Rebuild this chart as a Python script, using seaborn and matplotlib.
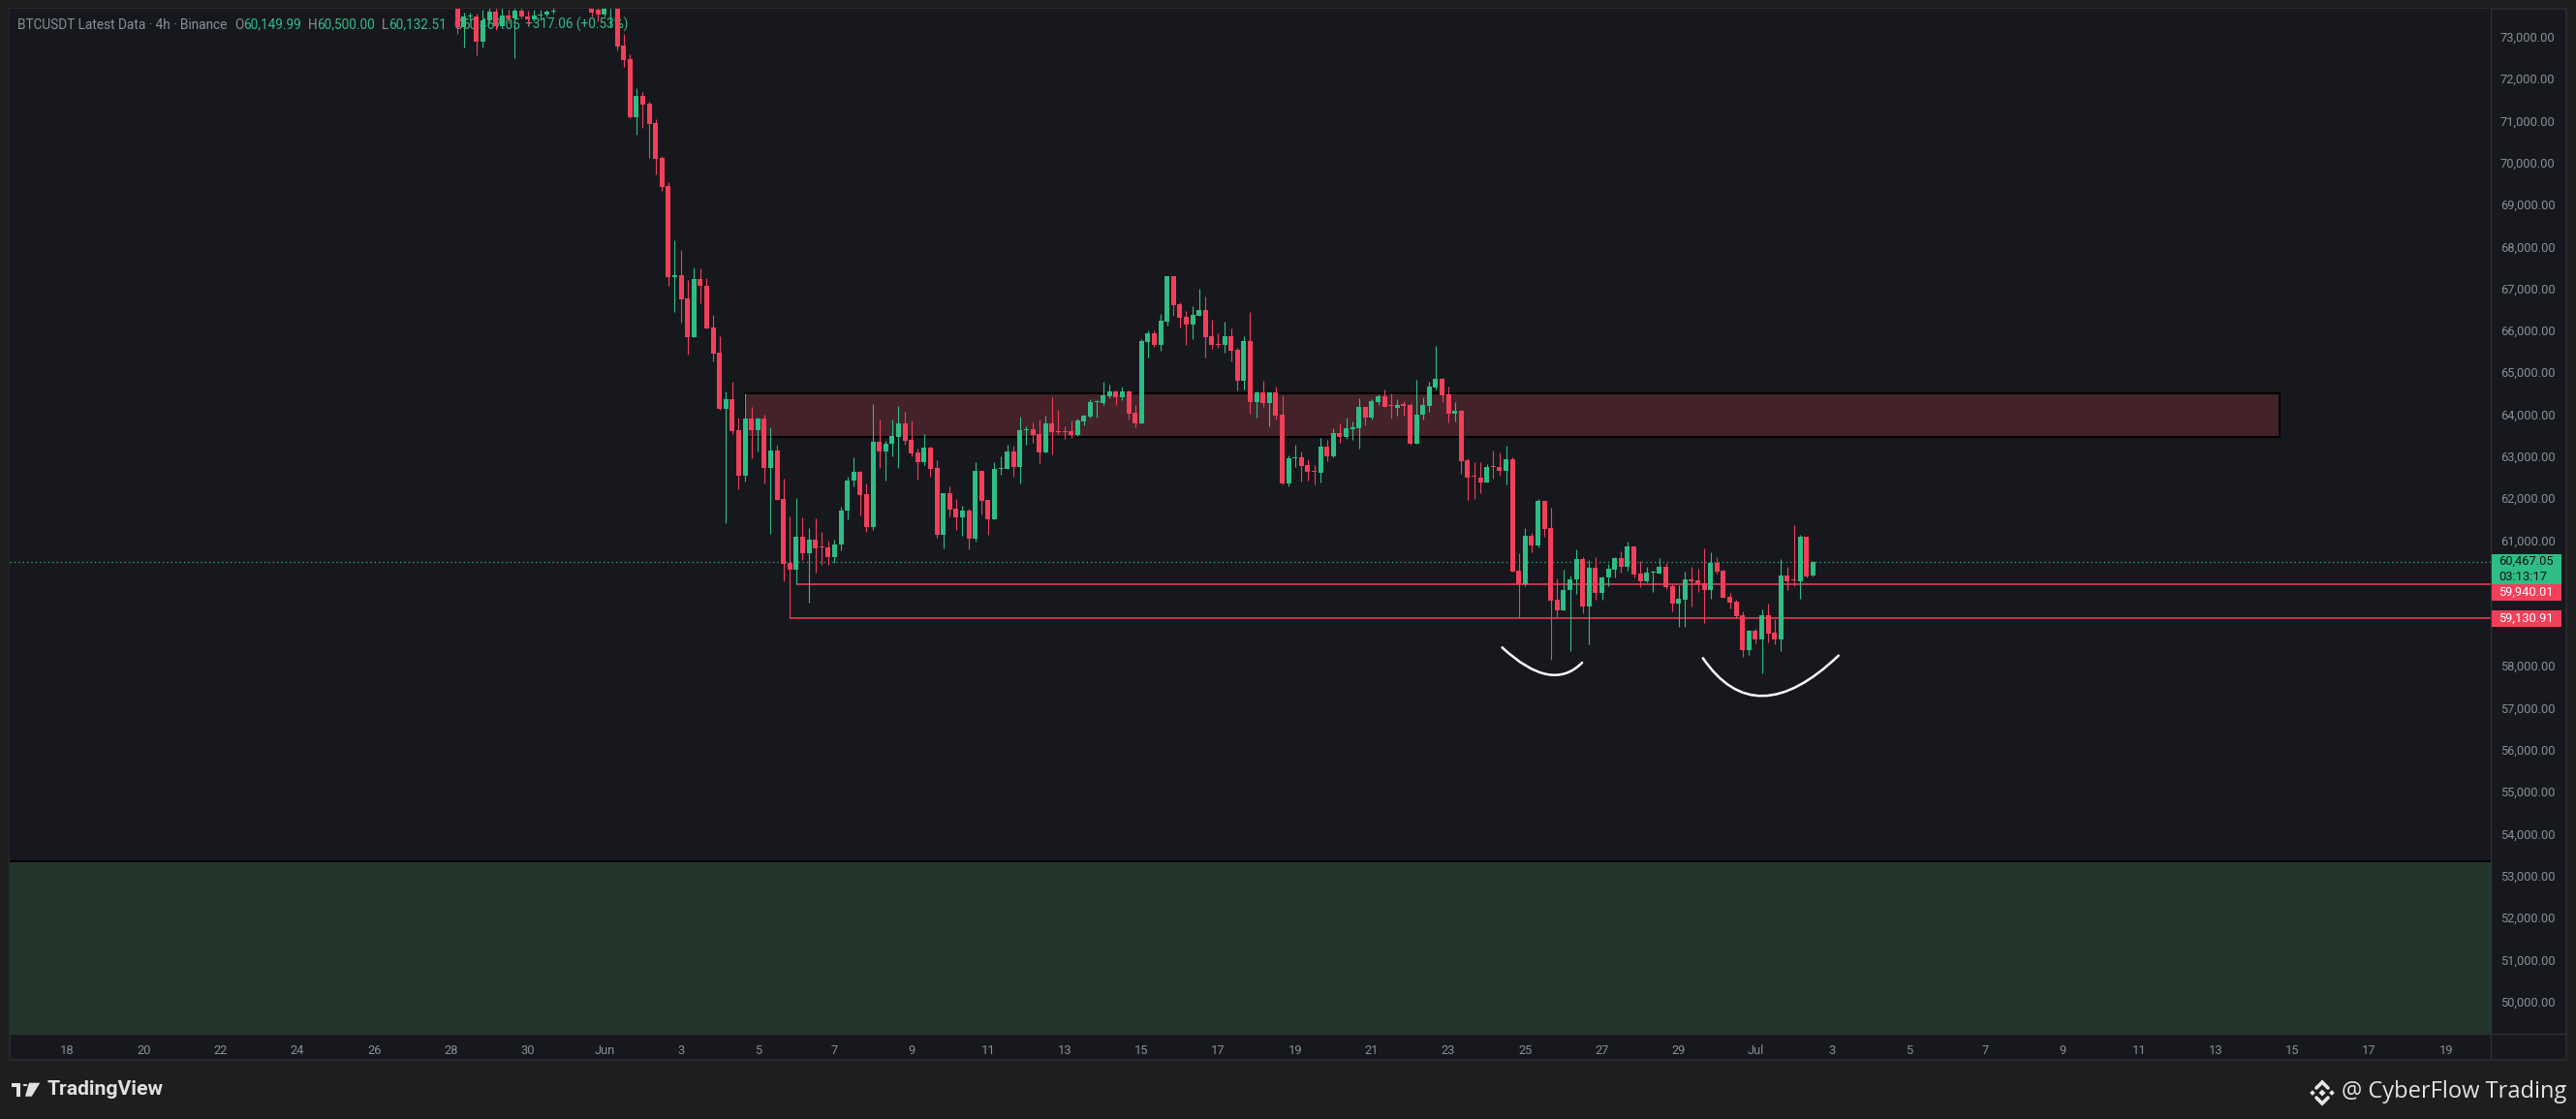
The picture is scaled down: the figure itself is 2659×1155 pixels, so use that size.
import numpy as np
import pandas as pd
import matplotlib
matplotlib.use("Agg")
import matplotlib.pyplot as plt
import matplotlib.dates as mdates
from matplotlib.patches import Rectangle, PathPatch, Polygon, Circle
from matplotlib.path import Path
import seaborn as sns

# -------------------------
# BTCUSDT 4h candles, first bar 2024-05-28 04:00
# -------------------------
first_bar = "2024-05-28 04:00"
opens = [73750, 73222, 73476, 73485, 72890, 73383, 73600, 73260, 73506, 73445,
         73630, 73490, 73414, 73506, 73530, 73590, 73720, 73900, 74050, 73980,
         73850, 73760, 73650, 73540, 73700, 73720, 72782, 72467, 71081, 71589,
         71404, 70942, 70111, 69441, 67277, 67316, 66761, 65845, 67223, 67061,
         66068, 65467, 64128, 64359, 63619, 62542, 63896, 63620, 63897, 62726,
         63134, 61980, 60455, 60301, 61079, 60694, 61009, 60840, 60817, 60601,
         60894, 61702, 62418, 62627, 62095, 61317, 63342, 63119, 63296, 63466,
         63781, 63389, 63088, 62865, 63204, 62719, 61132, 62118, 61749, 61548,
         61702, 61040, 62650, 61957, 61502, 62696, 62704, 63112, 62750, 63620,
         63642, 63527, 63088, 63781, 63589, 63589, 63589, 63504, 63828, 63943,
         64290, 64267, 64428, 64544, 64405, 64544, 64035, 63781, 65722, 65930,
         65652, 66207, 67292, 66623, 66322, 66138, 66345, 66484, 65860, 65660,
         65652, 65860, 65537, 64798, 65745, 64290, 64521, 64267, 64521, 63989,
         62349, 62950, 62973, 62788, 62650, 62603, 63227, 62996, 63550, 63458,
         63643, 63666, 64174, 63920, 64290, 64428, 64197, 64151, 64220, 64220,
         63296, 63989, 64197, 64636, 64844, 64475, 64012, 64082, 62904, 62511,
         62488, 62372, 62742, 62742, 62650, 62927, 60270, 59946, 61102, 60871,
         61933, 61287, 59577, 59323, 59808, 60062, 60547, 59415, 60339, 59739,
         60108, 60293, 60570, 60362, 60848, 60201, 60016, 60216, 60201, 60362,
         59900, 59485, 59577, 60062, 60040, 59970, 59808, 60455, 60270, 59647,
         59531, 59208, 58376, 58838, 58630, 59208, 58792, 58630, 60155, 60040,
         60016, 61079, 60149.99]
highs = [73800, 73570, 73580, 73553, 73645, 73700, 73700, 73680, 73650, 73700,
         73700, 73630, 73640, 73640, 73645, 73700, 73950, 74100, 74250, 74100,
         73950, 73800, 73760, 73750, 73800, 73900, 73067, 72582, 71782, 71681,
         71450, 71027, 70165, 69526, 68140, 67916, 67192, 67500, 67477, 67246,
         66368, 65853, 64544, 64775, 63920, 64497, 64174, 63920, 63982, 63689,
         63265, 62465, 61556, 62003, 61541, 61287, 61518, 61194, 60986, 61009,
         61795, 62511, 62973, 62650, 62349, 64243, 63874, 63365, 63874, 64197,
         64058, 63851, 63188, 63527, 63227, 62904, 62118, 62280, 61980, 61818,
         61749, 62857, 62650, 61957, 62857, 62996, 63273, 63250, 63943, 63712,
         63804, 63874, 63966, 64405, 64105, 63712, 63851, 63897, 63989, 64359,
         64336, 64775, 64705, 64567, 64659, 64567, 64220, 65791, 65999, 65999,
         66392, 67292, 67292, 66669, 66461, 66577, 66992, 66807, 66253, 65930,
         66207, 66045, 65583, 65860, 66438, 64544, 64798, 64521, 64659, 64451,
         63019, 63273, 63112, 62927, 62788, 63435, 63389, 63666, 63781, 63920,
         63828, 64382, 64174, 64359, 64475, 64590, 64498, 64359, 64313, 64267,
         64821, 64405, 64775, 65629, 64867, 64659, 64290, 64105, 62950, 62857,
         62857, 62811, 63134, 63088, 63250, 62973, 60686, 61287, 61171, 61980,
         61933, 61772, 60085, 60293, 60155, 60779, 60593, 60524, 60593, 60132,
         60431, 60593, 60732, 60963, 60848, 60501, 60362, 60270, 60570, 60455,
         59946, 59924, 60247, 60363, 60317, 60801, 60709, 60594, 60293, 59739,
         59577, 59300, 58861, 58884, 59346, 59485, 59115, 60548, 60363, 61356,
         61125, 61079, 60500.00]
lows = [73068, 72736, 73400, 72567, 72736, 73350, 73168, 73200, 73322, 72490,
        73430, 73300, 73360, 73400, 73480, 73560, 73710, 73820, 73900, 73780,
        73720, 73480, 73376, 73480, 73222, 72682, 72282, 71065, 70673, 70834,
        70103, 69718, 69333, 67061, 66445, 66191, 65429, 65845, 66653, 66053,
        65267, 64112, 61400, 63519, 62210, 62403, 62957, 63111, 62357, 61156,
        61964, 60016, 59130.91, 59940.01, 60532, 59515, 60232, 60416, 60416, 60463,
        60763, 61494, 62280, 61595, 61202, 61248, 62727, 62426, 63004, 62727,
        63281, 63004, 62449, 62788, 62519, 61063, 60809, 61571, 61248, 61110,
        60786, 60971, 61617, 61133, 61502, 62565, 62704, 62519, 62357, 63273,
        63327, 62842, 63088, 63042, 63535, 63419, 63443, 63481, 63735, 63920,
        63920, 64220, 64382, 64220, 64336, 63874, 63689, 63781, 65352, 65606,
        65514, 66114, 66345, 66068, 65652, 65791, 66345, 65352, 65560, 65583,
        65468, 65260, 64567, 64590, 64012, 63920, 64174, 63712, 63874, 62326,
        62280, 62742, 62395, 62418, 62326, 62372, 62880, 62973, 63319, 63412,
        63389, 63181, 63735, 63874, 64220, 64174, 63897, 63966, 63966, 63273,
        63296, 63874, 64059, 64590, 64289, 63804, 63828, 62580, 61957, 61980,
        62118, 62372, 62465, 62534, 62326, 60247, 59131, 59900, 60709, 60825,
        61079, 58145, 59161, 59323, 58353, 59716, 59254, 58514, 59577, 59577,
        59900, 60108, 60224, 60270, 60108, 59877, 59993, 59762, 60201, 59831,
        59300, 58938, 58938, 59415, 59762, 59023, 59600, 60201, 59623, 59369,
        59138, 58214, 58260, 58538, 57822, 58561, 58515, 58353, 59808, 59900,
        59600, 60109, 60132.51]
closes = [73222, 73476, 73485, 72890, 73383, 73600, 73260, 73506, 73445, 73630,
          73490, 73414, 73506, 73530, 73590, 73630, 73900, 74050, 73980, 73850,
          73760, 73570, 73540, 73700, 73720, 72775, 72452, 71081, 71589, 71389,
          70927, 70095, 69426, 67277, 67308, 66746, 65845, 67223, 67054, 66053,
          65452, 64128, 64359, 63596, 62542, 63896, 63620, 63897, 62726, 63134,
          61964, 60440, 60301, 61079, 60694, 61009, 60809, 60817, 60601, 60894,
          61702, 62418, 62627, 62072, 61317, 63342, 63119, 63296, 63481, 63781,
          63373, 63065, 62865, 63204, 62703, 61132, 62118, 61733, 61548, 61702,
          61040, 62650, 61941, 61502, 62696, 62727, 63112, 62750, 63620, 63642,
          63504, 63088, 63781, 63573, 63573, 63566, 63504, 63851, 63966, 64290,
          64298, 64451, 64544, 64405, 64544, 64012, 63781, 65745, 65930, 65652,
          66230, 67292, 66600, 66299, 66138, 66369, 66484, 65837, 65652, 65645,
          65860, 65514, 64798, 65745, 64290, 64521, 64267, 64521, 63966, 62349,
          62950, 62965, 62765, 62626, 62620, 63227, 62996, 63550, 63458, 63666,
          63689, 64174, 63920, 64313, 64428, 64174, 64190, 64220, 64208, 63296,
          63989, 64220, 64659, 64844, 64451, 64012, 64082, 62880, 62488, 62500,
          62372, 62742, 62735, 62650, 62927, 60247, 59946, 61102, 60871, 61933,
          61263, 59554, 59323, 59808, 60062, 60547, 59415, 60339, 59739, 60108,
          60316, 60570, 60362, 60848, 60178, 60016, 60224, 60224, 60362, 59877,
          59485, 59600, 60062, 60016, 59947, 59808, 60455, 60247, 59623, 59508,
          59185, 58376, 58838, 58630, 59208, 58769, 58630, 60155, 60016, 60030,
          61079, 60132, 60467.05]

# resistance box and support lines
zone_low, zone_high = 63460, 64500
zone_start, zone_end = "2024-06-04 16:00", "2024-07-14 16:00"
support_levels = [59940.01, 59130.91]
support_starts = ["2024-06-06 00:00", "2024-06-05 20:00"]
last_price = 60467.05
countdown = "03:13:17"
demand_top = 53330

# hand drawn "smile" curves: start, lowest point, end
curve1_times = ["2024-06-24 09:36", "2024-06-25 13:36", "2024-06-26 11:36"]
curve1_prices = [58438, 57798, 58075]
curve2_times = ["2024-06-29 15:12", "2024-07-01 04:48", "2024-07-03 04:00"]
curve2_prices = [58184, 57283, 58244]

y_ticks = [50000, 51000, 52000, 53000, 54000, 55000, 56000, 57000, 58000,
           61000, 62000, 63000, 64000, 65000, 66000, 67000, 68000, 69000,
           70000, 71000, 72000, 73000]

BG = "#17181d"
GREEN = "#2ebd85"
RED = "#f23f5a"
GRAY = "#8b8e96"

sns.set_theme(style="dark", rc={"axes.facecolor": BG, "figure.facecolor": "#1e1e1e",
                                "axes.grid": False})
plt.rcParams["font.family"] = ["Roboto", "DejaVu Sans"]

W, H = 2659, 1155
fig = plt.figure(figsize=(W / 100, H / 100), dpi=100)
fig.patch.set_facecolor("#1e1e1e")


def fx(x):
    return x / W


def fy(y):
    return 1 - y / H


# chart panel + separators
fig.add_artist(Rectangle((fx(10), fy(1094)), fx(2649) - fx(10), fy(9) - fy(1094),
                         transform=fig.transFigure, facecolor=BG, edgecolor="#2b2c31",
                         lw=1.2, zorder=0))
fig.add_artist(plt.Line2D([fx(2571), fx(2571)], [fy(9), fy(1094)], transform=fig.transFigure,
                          color="#2f3137", lw=1, zorder=5))
fig.add_artist(plt.Line2D([fx(10), fx(2649)], [fy(1067), fy(1067)], transform=fig.transFigure,
                          color="#2f3137", lw=1, zorder=5))

ax = fig.add_axes([fx(10), fy(1067), fx(2571) - fx(10), fy(9.3) - fy(1067)])
ax.set_facecolor(BG)
for s in ax.spines.values():
    s.set_visible(False)

df = pd.DataFrame({"open": opens, "high": highs, "low": lows, "close": closes},
                  index=pd.date_range(first_bar, periods=len(opens), freq="4h"))
x = mdates.date2num(df.index.to_pydatetime())
up = (df["close"] >= df["open"]).values
colors = np.where(up, GREEN, RED)
body_lo = np.minimum(df["open"], df["close"]).values
body_h = np.maximum(np.abs(df["close"] - df["open"]).values, 25)

xmin = mdates.date2num(pd.Timestamp("2024-05-16 12:00"))
xmax = mdates.date2num(pd.Timestamp("2024-07-20 04:00"))

# demand zone at the bottom
ax.axhspan(40000, demand_top, color="#22362b", lw=0, zorder=0.5)
ax.axhline(demand_top, color="black", lw=1.4, zorder=0.6)

# resistance box
zs = mdates.date2num(pd.Timestamp(zone_start))
ze = mdates.date2num(pd.Timestamp(zone_end))
ax.add_patch(Rectangle((zs, zone_low), ze - zs, zone_high - zone_low, facecolor="#43222a",
                       edgecolor="black", lw=1.4, zorder=1))

# support lines and last price line
for lvl, st in zip(support_levels, support_starts):
    ax.hlines(lvl, mdates.date2num(pd.Timestamp(st)), xmax, color=RED, lw=1.1, zorder=2)
ax.axhline(last_price, color=GREEN, lw=0.9, ls=(0, (1, 2.5)), zorder=2)

# candles
ax.vlines(x, df["low"], df["high"], colors=colors, lw=0.8, zorder=3)
ax.bar(x, body_h, bottom=body_lo, width=0.125, color=colors, lw=0, zorder=3.1)

# smile curves
for ts, ps in [(curve1_times, curve1_prices), (curve2_times, curve2_prices)]:
    tx = mdates.date2num(pd.to_datetime(ts))
    p0 = np.array([tx[0], ps[0]])
    m = np.array([tx[1], ps[1]])
    p2 = np.array([tx[2], ps[2]])
    ctrl = 2 * m - (p0 + p2) / 2
    path = Path([p0, ctrl, p2], [Path.MOVETO, Path.CURVE3, Path.CURVE3])
    ax.add_patch(PathPatch(path, facecolor="none", edgecolor="white", lw=1.8,
                           capstyle="round", zorder=4))

ax.set_xlim(xmin, xmax)
ax.set_ylim(49228, 73661)

# axes ticks
ax.yaxis.tick_right()
ax.set_yticks(y_ticks)
ax.set_yticklabels([f"{v:,.2f}" for v in y_ticks])
ticks = pd.date_range("2024-05-18", "2024-07-19", freq="2D")
ax.set_xticks(mdates.date2num(ticks.to_pydatetime()))
ax.set_xticklabels([d.strftime("%b") if d.day == 1 else str(d.day) for d in ticks])
ax.tick_params(axis="y", length=0, pad=7, labelsize=9.3, labelcolor=GRAY)
ax.tick_params(axis="x", length=0, pad=8, labelsize=9.3, labelcolor=GRAY)

# legend line at the top left
fs = 9.8
segs = [("O", GRAY, 5), ("60,149.99", GREEN, 0), ("H", GRAY, 5), ("60,500.00", GREEN, 0),
        ("L", GRAY, 5), ("60,132.51", GREEN, 0), ("C", GRAY, 5), ("60,467.05", GREEN, 0),
        ("+317.06 (+0.53%)", GREEN, 4)]
t = ax.text(0.0033, 0.9845, "BTCUSDT Latest Data · 4h · Binance", transform=ax.transAxes,
            color=GRAY, fontsize=fs, va="center", ha="left", zorder=1.2)
for s, c, gap in segs:
    t = ax.annotate(s, xy=(1, 0), xycoords=t, xytext=(gap, 0), textcoords="offset points",
                    color=c, fontsize=fs, va="bottom", ha="left", zorder=1.2)

# price labels on the axis
fig.canvas.draw()


def price_px(p):
    return H - ax.transData.transform((xmin, p))[1]


def axis_box(top, bottom, color):
    fig.add_artist(Rectangle((fx(2572), fy(bottom)), fx(2644) - fx(2572), fy(top) - fy(bottom),
                             transform=fig.transFigure, facecolor=color, lw=0, zorder=6))


yl = price_px(last_price)
axis_box(yl - 8.3, yl + 22.2, GREEN)
fig.text(fx(2579), fy(yl - 1), f"{last_price:,.2f}", color="#111318", fontsize=9.3,
         va="center", ha="left", zorder=7)
fig.text(fx(2579), fy(yl + 15), countdown, color="#111318", fontsize=9.3,
         va="center", ha="left", zorder=7)

y1 = price_px(support_levels[0])
axis_box(y1, y1 + 16.5, RED)
fig.text(fx(2579), fy(y1 + 8.2), f"{support_levels[0]:,.2f}", color="white", fontsize=9.3,
         va="center", ha="left", zorder=7)
y2 = price_px(support_levels[1])
axis_box(y2 - 8.3, y2 + 8.2, RED)
fig.text(fx(2579), fy(y2), f"{support_levels[1]:,.2f}", color="white", fontsize=9.3,
         va="center", ha="left", zorder=7)

# footer: TradingView logo and watermark
logo = "#e1e1e1"
fig.add_artist(Polygon([(fx(12), fy(1117.7)), (fx(21.3), fy(1117.7)), (fx(21.3), fy(1131.7)),
                        (fx(16.7), fy(1131.7)), (fx(16.7), fy(1122.3)), (fx(12), fy(1122.3))],
                       closed=True, transform=fig.transFigure, color=logo, lw=0))
fig.add_artist(Circle((fx(26), fy(1120)), 2.4 / W, transform=fig.transFigure, color=logo, lw=0))
fig.add_artist(Polygon([(fx(30), fy(1117.7)), (fx(41.3), fy(1117.7)), (fx(32.7), fy(1131.7)),
                        (fx(26), fy(1131.7))], closed=True, transform=fig.transFigure,
                       color=logo, lw=0))
fig.text(fx(49), fy(1124.7), "TradingView", color=logo, fontsize=15.2, fontweight="bold",
         va="center", ha="left")

cx, cy = 2397, 1128
def diamond(xc, yc, r):
    return Polygon([(fx(xc - r), fy(yc)), (fx(xc), fy(yc - r)), (fx(xc + r), fy(yc)),
                    (fx(xc), fy(yc + r))], closed=True, transform=fig.transFigure,
                   color="#e6e6e6", lw=0)
fig.add_artist(diamond(cx, cy, 3.5))
fig.add_artist(diamond(cx - 10, cy, 2.8))
fig.add_artist(diamond(cx + 10, cy, 2.8))
for sgn in (-1, 1):
    fig.add_artist(plt.Line2D([fx(cx - 6), fx(cx), fx(cx + 6)],
                              [fy(cy + sgn * 5), fy(cy + sgn * 11), fy(cy + sgn * 5)],
                              transform=fig.transFigure, color="#e6e6e6", lw=2.6,
                              solid_joinstyle="miter"))
fig.text(fx(2649), fy(1127), "@ CyberFlow Trading", color="#e3e3e3", fontsize=17,
         family=["Open Sans", "DejaVu Sans"], va="center", ha="right")

fig.savefig("out.png", dpi=100, facecolor=fig.get_facecolor())
